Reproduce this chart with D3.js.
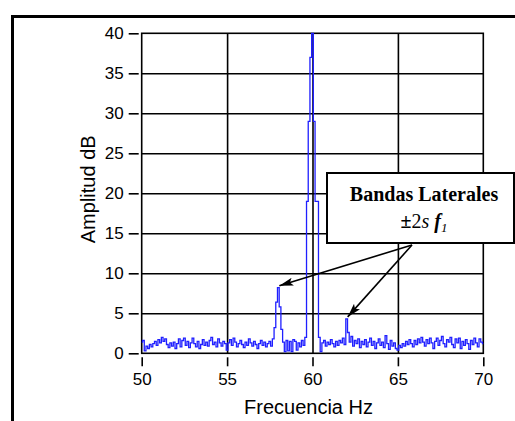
<!DOCTYPE html>
<html>
<head>
<meta charset="utf-8">
<script src="https://cdn.jsdelivr.net/npm/d3@7"></script>
<style>
  body { margin: 0; background: #fff; }
  svg { display: block; }
</style>
</head>
<body>
<svg id="chart" width="515" height="421"></svg>
<script>
// spectrum, 50.0 .. 70.0 Hz, one value every 0.1 Hz
const freqStart = 50;
const freqStep = 0.1;
const amplitude = [
  1.4, 1.6, 0.3, 0.9, 0.6, 1.1, 0.8, 1.2, 1.5, 1.0,
  1.7, 1.3, 2.0, 1.5, 1.8, 1.1, 0.7, 1.3, 0.9, 1.4,
  0.6, 1.2, 1.8, 0.8, 1.6, 1.9, 1.0, 1.5, 0.7, 1.3,
  1.9, 1.2, 0.8, 1.5, 0.6, 1.1, 1.7, 1.0, 1.4, 0.9,
  1.6, 2.0, 1.1, 1.4, 0.8, 1.8, 1.3, 0.9, 1.5, 1.2,
  0.4, 1.3, 1.7, 1.0, 1.9, 1.4, 0.8, 1.2, 1.6, 1.1,
  0.7, 1.4, 1.0, 1.8, 1.3, 0.9, 1.5, 1.1, 0.6, 1.2,
  1.6, 1.0, 1.4, 0.8, 1.2, 1.5, 0.9, 1.8, 3.2, 6.4,
  8.2, 5.8, 3.0, 1.4, 0.2, 1.6, 0.3, 1.5, 0.2, 1.7,
  1.5, 0.4, 1.3, 0.8, 1.6, 1.0, 2.0, 19.0, 29.0, 37.0,
  40.0, 29.0, 19.0, 19.0, 2.0, 0.2, 1.3, 1.6, 0.9, 1.4,
  1.1, 1.7, 1.2, 0.8, 1.5, 1.0, 1.6, 1.3, 1.9, 1.1,
  4.3, 2.6, 1.4, 2.1, 0.9, 1.6, 1.2, 1.8, 0.7, 1.5,
  1.1, 1.7, 0.8, 1.4, 1.9, 1.0, 1.5, 0.6, 1.3, 1.8,
  1.0, 1.4, 0.7, 2.2, 1.2, 0.5, 1.6, 0.9, 1.3, 0.6,
  0.4, 1.0, 0.7, 1.2, 0.9, 1.5, 1.1, 1.7, 1.2, 0.8,
  1.6, 1.1, 1.8, 1.3, 2.0, 1.4, 0.9, 1.7, 1.2, 1.9,
  1.3, 0.6, 1.5, 1.9, 1.0, 1.6, 2.1, 1.2, 0.8, 1.7,
  1.4, 2.0, 1.1, 0.7, 1.8, 1.3, 1.9, 0.6, 1.5, 1.0,
  1.7, 1.2, 0.5, 1.6, 1.1, 1.9, 1.3, 0.8, 1.8, 1.4,
  1.2
];
const xTicks = [50, 55, 60, 65, 70];
const yTicks = [0, 5, 10, 15, 20, 25, 30, 35, 40];
const sidebandFreqs = [58, 62];
const sidebandAmps = [8.2, 4.3];

const svg = d3.select('#chart');

// outer frame (only top and left edges fall inside the picture)
svg.append('path')
   .attr('d', 'M12.5,440 V16.5 H530')
   .attr('fill', 'none')
   .attr('stroke', '#000')
   .attr('stroke-width', 3);

const x = d3.scaleLinear().domain([50, 70]).range([141.7, 483.3]);
const y = d3.scaleLinear().domain([0, 40]).range([353.3, 33.3]);

const plotW = x(70) - x(50);
const plotH = y(0) - y(40);

// grid
svg.append('g')
   .attr('transform', `translate(0, ${y(0)})`)
   .call(d3.axisBottom(x).tickValues([55, 60, 65]).tickSize(-plotH).tickFormat(''))
   .call(g => g.select('.domain').remove())
   .selectAll('line').attr('stroke', '#000').attr('stroke-width', 1.6);

svg.append('g')
   .attr('transform', `translate(${x(50)}, 0)`)
   .call(d3.axisLeft(y).tickValues([5, 10, 15, 20, 25, 30, 35]).tickSize(-plotW).tickFormat(''))
   .call(g => g.select('.domain').remove())
   .selectAll('line').attr('stroke', '#000').attr('stroke-width', 1.6);

svg.append('rect')
   .attr('x', x(50)).attr('y', y(40))
   .attr('width', plotW).attr('height', plotH)
   .attr('fill', 'none')
   .attr('stroke', '#000')
   .attr('stroke-width', 1.6);

// spectrum
const spectrum = amplitude.map((a, i) => ({ f: freqStart + i * freqStep, a: a }));

svg.append('path')
   .datum(spectrum)
   .attr('fill', 'none')
   .attr('stroke', '#1f1fff')
   .attr('stroke-width', 1.3)
   .attr('d', d3.line().x(d => x(d.f)).y(d => y(d.a)).curve(d3.curveStep));

// axes
const yAxis = svg.append('g')
   .attr('transform', `translate(${x(50) - 3}, 0)`)
   .call(d3.axisLeft(y).tickValues(yTicks).tickSize(10).tickPadding(5));
yAxis.select('.domain').remove();

const xAxis = svg.append('g')
   .attr('transform', `translate(0, ${y(0) + 4})`)
   .call(d3.axisBottom(x).tickValues(xTicks).tickSize(9).tickPadding(7));
xAxis.select('.domain').remove();

svg.selectAll('.tick line').attr('stroke', '#000').attr('stroke-width', 1.6);
svg.selectAll('.tick text')
   .attr('fill', '#000')
   .style('font-family', '"Liberation Sans", Arial, sans-serif')
   .style('font-size', '17px');

svg.append('text')
   .attr('x', (x(50) + x(70)) / 2 - 4)
   .attr('y', 414)
   .attr('text-anchor', 'middle')
   .style('font-family', '"Liberation Sans", Arial, sans-serif')
   .style('font-size', '20px')
   .text('Frecuencia Hz');

svg.append('text')
   .attr('transform', `translate(95, ${(y(0) + y(40)) / 2 - 4}) rotate(-90)`)
   .attr('text-anchor', 'middle')
   .style('font-family', '"Liberation Sans", Arial, sans-serif')
   .style('font-size', '20px')
   .text('Amplitud dB');

// annotation arrows
const defs = svg.append('defs');
defs.append('marker')
    .attr('id', 'head')
    .attr('viewBox', '0 0 14 8')
    .attr('refX', 14).attr('refY', 4)
    .attr('markerWidth', 14).attr('markerHeight', 8)
    .attr('markerUnits', 'userSpaceOnUse')
    .attr('orient', 'auto')
    .append('path')
    .attr('d', 'M0,0 L14,4 L0,8 L3,4 Z')
    .attr('fill', '#000');

const arrowStart = [412, 245];
svg.selectAll('line.arrow')
   .data(sidebandFreqs.map((f, i) => ({ f: f, a: sidebandAmps[i] })))
   .enter()
   .append('line')
   .attr('class', 'arrow')
   .attr('x1', arrowStart[0]).attr('y1', arrowStart[1])
   .attr('x2', d => x(d.f) + 1).attr('y2', d => y(d.a) - 2)
   .attr('stroke', '#000')
   .attr('stroke-width', 1.6)
   .attr('marker-end', 'url(#head)');

// annotation box
svg.append('rect')
   .attr('x', 327).attr('y', 173)
   .attr('width', 187).attr('height', 70)
   .attr('fill', '#fff')
   .attr('stroke', '#000')
   .attr('stroke-width', 2);

const serif = '"Liberation Serif", "Times New Roman", serif';
svg.append('text')
   .attr('x', 424).attr('y', 201)
   .attr('text-anchor', 'middle')
   .style('font-family', serif)
   .style('font-size', '20px')
   .style('font-weight', 'bold')
   .text('Bandas Laterales');

const sub = svg.append('text')
   .attr('x', 424).attr('y', 228)
   .attr('text-anchor', 'middle')
   .style('font-family', serif)
   .style('font-size', '20px');
sub.append('tspan').style('font-weight', 'bold').text('±');
sub.append('tspan').text('2');
sub.append('tspan').style('font-style', 'italic').text('s ');
sub.append('tspan').style('font-style', 'italic').style('font-weight', 'bold').text('f');
sub.append('tspan').style('font-style', 'italic').style('font-size', '13px').attr('dy', 4).text('1');
</script>
</body>
</html>
